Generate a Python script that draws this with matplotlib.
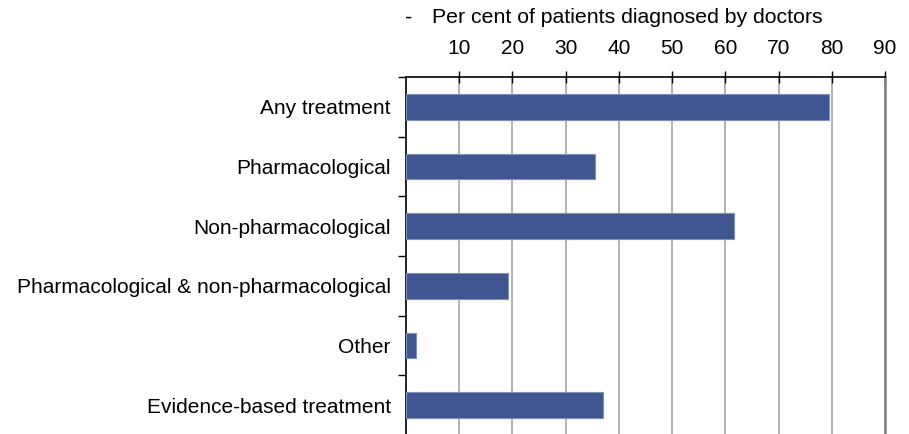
import matplotlib
matplotlib.use("Agg")
import matplotlib.pyplot as plt

categories = ["Any treatment", "Pharmacological", "Non-pharmacological",
              "Pharmacological & non-pharmacological", "Other", "Evidence-based treatment"]
values = [79.5, 35.6, 61.6, 19.2, 1.9, 37.1]
xticks = [10, 20, 30, 40, 50, 60, 70, 80, 90]
xlabel = "Per cent of patients diagnosed by doctors"

plt.rcParams['font.family'] = ['Liberation Sans', 'DejaVu Sans']
FS = 15

fig = plt.figure(figsize=(9.09, 4.34), dpi=100)
W, H = 909, 434
left, right, top, bottom = 406, 885, 77, 435
ax = fig.add_axes([left / W, 1 - bottom / H, (right - left) / W, (bottom - top) / H])

n = len(categories)
ypos = list(range(n))
ax.barh(ypos, values, height=0.43, color="#3F558F", edgecolor="#7F8FBC", linewidth=0.8, zorder=3)
ax.set_ylim(n - 0.5, -0.5)
ax.set_xlim(0, 90)

ax.xaxis.tick_top()
ax.xaxis.set_label_position("top")
ax.set_xticks(xticks)
ax.set_xticklabels([str(t) for t in xticks], fontsize=FS)
ax.tick_params(axis="x", direction="inout", length=9, width=1, color="black", pad=9)
ax.set_xlabel(xlabel, fontsize=15.3)
ax.xaxis.set_label_coords((627 - left) / (right - left), 1 + (77 - 8) / (bottom - top))
ax.xaxis.label.set_va("top")
fig.text(409 / W, 1 - 18 / H, "-", fontsize=16, ha="center", va="center")

ax.set_yticks(ypos)
ax.set_yticklabels(categories, fontsize=FS)
ax.tick_params(axis="y", length=0, pad=11)
ax.set_yticks([i - 0.5 for i in range(n + 1)], minor=True)
ax.tick_params(axis="y", which="minor", direction="out", length=6, width=1, color="black")

ax.grid(axis="x", color="#A6A6A6", linewidth=1.2, zorder=0)
ax.set_axisbelow(True)
ax.spines["bottom"].set_visible(False)
ax.spines["top"].set_color("black")
ax.spines["top"].set_linewidth(1.2)
ax.spines["left"].set_color("black")
ax.spines["left"].set_linewidth(1.2)
ax.spines["right"].set_color("#808080")
ax.spines["right"].set_linewidth(1.8)

fig.savefig("out.png", dpi=100)
